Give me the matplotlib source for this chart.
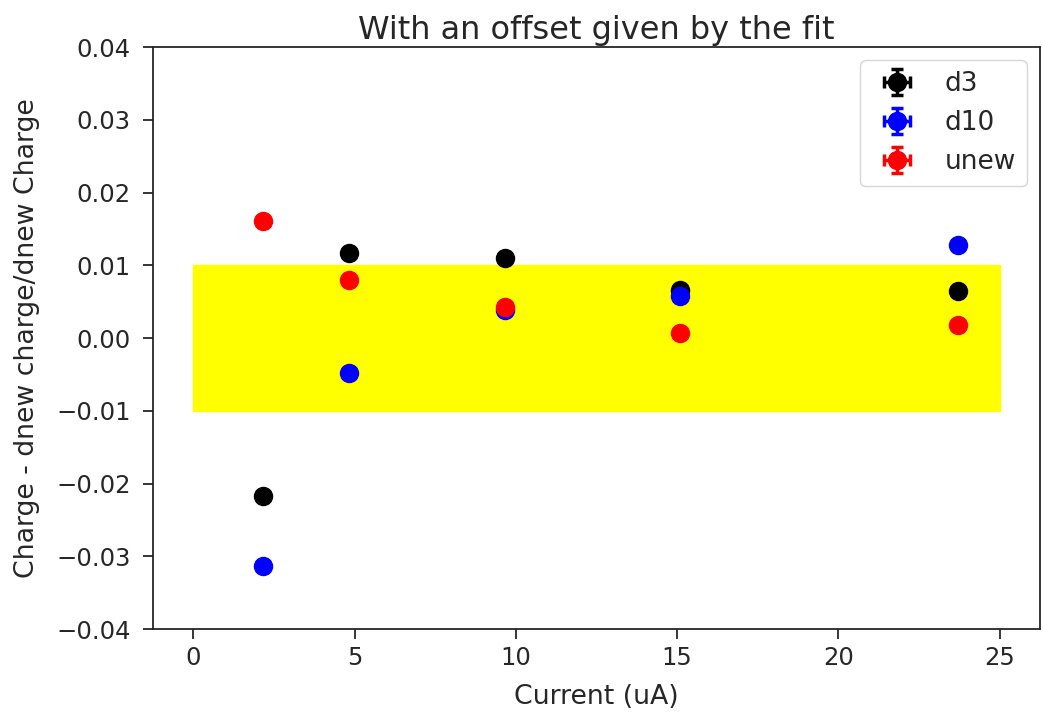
import matplotlib

matplotlib.use("Agg")
import matplotlib.pyplot as plt
import numpy as np

# data
current = [2.15, 4.83, 9.67, 15.09, 23.7]
d3 = [-0.0217, 0.01168, 0.0110, 0.0066, 0.00646]
d10 = [-0.0313, -0.00481, 0.0039, 0.0058, 0.0128]
unew = [0.01608, 0.00797, 0.00426, 0.0007, 0.0018]
current_err = [0.05, 0.05, 0.05, 0.05, 0.05]
charge_err = [0.0004, 0.0004, 0.0004, 0.0004, 0.0004]

band_x = [0, 25]
band_lo = -0.01
band_hi = 0.01

DARK = "#262626"
plt.rcParams.update({
    "font.size": 17.5,
    "axes.unicode_minus": True,
    "text.color": DARK,
    "axes.labelcolor": DARK,
    "axes.edgecolor": DARK,
    "axes.linewidth": 1.3,
    "xtick.color": DARK,
    "ytick.color": DARK,
    "xtick.major.size": 7,
    "ytick.major.size": 7,
    "xtick.major.width": 1.3,
    "ytick.major.width": 1.3,
    "xtick.major.pad": 5.5,
    "ytick.major.pad": 9,
    "legend.edgecolor": "0.8",
})

fig = plt.figure(figsize=(10.43, 7.16), dpi=100)
ax = fig.add_axes([0.1467, 0.1215, 0.8503, 0.8125])

ax.fill_between(band_x, band_lo, band_hi, color="yellow")
for ys, color, label in [(d3, "black", "d3"), (d10, "blue", "d10"), (unew, "red", "unew")]:
    ax.errorbar(current, ys, xerr=current_err, yerr=charge_err, fmt="o",
                color=color, ms=13, capsize=4, elinewidth=2.5, capthick=2.5,
                label=label)

ax.set_ylim(-0.04, 0.04)
ax.set_yticks(np.arange(-0.04, 0.041, 0.01))
ax.set_xticks([0, 5, 10, 15, 20, 25])
ax.tick_params(labelsize=17.5)
ax.set_xlabel("Current (uA)", fontsize=19.3, labelpad=10)
ax.set_ylabel("Charge - dnew charge/dnew Charge", fontsize=19.3, labelpad=12)
ax.set_title("With an offset given by the fit", fontsize=23)
ax.legend(loc="upper right", fontsize=19)

fig.savefig("out.png", dpi=100)
